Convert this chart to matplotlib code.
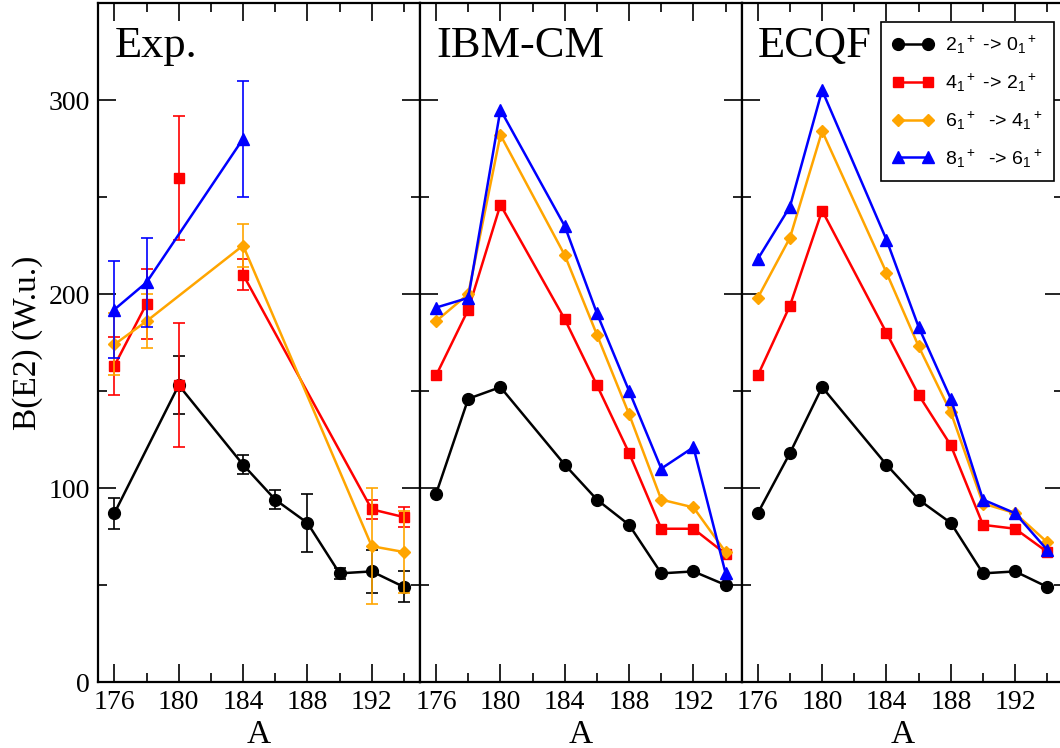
import matplotlib.pyplot as plt
from matplotlib.ticker import MultipleLocator

plt.rcParams['font.family'] = 'Liberation Serif'
plt.rcParams['mathtext.fontset'] = 'custom'
plt.rcParams['mathtext.rm'] = 'Liberation Sans'
plt.rcParams['mathtext.it'] = 'Liberation Sans:italic'
plt.rcParams['mathtext.bf'] = 'Liberation Sans:bold'

# mass numbers of the calculated chain
A_calc = [176, 178, 180, 184, 186, 188, 190, 192, 194]

# experiment: values and errors (W.u.)
exp_A_20 = [176, 180, 184, 186, 188, 190, 192, 194]
exp_20 = [87, 153, 112, 94, 82, 56, 57, 49]
exp_20_err = [8, 15, 5, 5, 15, 3, 11, 8]

exp_A_42 = [176, 178, 180, 180, 184, 192, 194]
exp_42 = [163, 195, 260, 153, 210, 89, 85]
exp_42_err = [15, 18, 32, 32, 8, 5, 5]
exp_42_links = [[0, 1], [4, 5, 6]]  # 180 has two values, left unconnected

exp_A_64 = [176, 178, 184, 192, 194]
exp_64 = [174, 186, 225, 70, 67]
exp_64_err = [16, 14, 11, 30, 21]

exp_A_86 = [176, 178, 184]
exp_86 = [192, 206, 280]
exp_86_err = [25, 23, 30]

# IBM with configuration mixing
ibm_20 = [97, 146, 152, 112, 94, 81, 56, 57, 50]
ibm_42 = [158, 192, 246, 187, 153, 118, 79, 79, 66]
ibm_64 = [186, 200, 282, 220, 179, 138, 94, 90, 67]
ibm_86 = [193, 198, 295, 235, 190, 150, 110, 121, 56]

# ECQF
ecqf_20 = [87, 118, 152, 112, 94, 82, 56, 57, 49]
ecqf_42 = [158, 194, 243, 180, 148, 122, 81, 79, 67]
ecqf_64 = [198, 229, 284, 211, 173, 139, 92, 87, 72]
ecqf_86 = [218, 245, 305, 228, 183, 146, 94, 87, 68]

labels = [r'$2_1{}^+$ -> $0_1{}^+$', r'$4_1{}^+$ -> $2_1{}^+$',
          r'$6_1{}^+$  -> $4_1{}^+$', r'$8_1{}^+$  -> $6_1{}^+$']
colors = ['black', 'red', 'orange', 'blue']
markers = ['o', 's', 'D', '^']
msizes = [8.5, 7, 6, 8.5]
panel_names = ['Exp.', 'IBM-CM', 'ECQF']

W, H = 1060, 748
fig = plt.figure(figsize=(W / 100, H / 100), dpi=100)

axes = []
for i in range(3):
    ax = fig.add_axes([(98.3 + i * 321.7) / W, 66 / H, 321.7 / W, 679 / H])
    ax.set_xlim(175, 195)
    ax.set_ylim(0, 350)
    ax.xaxis.set_major_locator(MultipleLocator(4))
    ax.xaxis.set_minor_locator(MultipleLocator(2))
    ax.yaxis.set_major_locator(MultipleLocator(100))
    ax.yaxis.set_minor_locator(MultipleLocator(50))
    ax.set_xticks([176, 180, 184, 188, 192])
    ax.tick_params(which='both', direction='in', top=True, right=True,
                   labelsize=20, width=1.2)
    ax.tick_params(which='major', length=13, pad=6)
    ax.tick_params(which='minor', length=6.5)
    for s in ax.spines.values():
        s.set_linewidth(1.6)
    if i > 0:
        ax.set_yticklabels([])
    ax.set_xlabel('A', fontsize=24, labelpad=3)
    ax.text(176, 322, panel_names[i], fontsize=32, va='baseline')
    axes.append(ax)

axes[0].set_ylabel('B(E2) (W.u.)', fontsize=24, labelpad=4)

# experimental panel: markers with error bars, lines drawn separately
ax = axes[0]
exp_sets = [(exp_A_20, exp_20, exp_20_err, [list(range(len(exp_A_20)))]),
            (exp_A_42, exp_42, exp_42_err, exp_42_links),
            (exp_A_64, exp_64, exp_64_err, [list(range(len(exp_A_64)))]),
            (exp_A_86, exp_86, exp_86_err, [list(range(len(exp_A_86)))])]
for k, (xa, ya, ea, links) in enumerate(exp_sets):
    for seg in links:
        ax.plot([xa[j] for j in seg], [ya[j] for j in seg],
                color=colors[k], lw=1.8, zorder=2 + k)
    ax.errorbar(xa, ya, yerr=ea, fmt=markers[k], color=colors[k],
                ms=msizes[k], elinewidth=1.2, capsize=4.5, capthick=1.2,
                zorder=2 + k)

# calculations
calc = [[ibm_20, ibm_42, ibm_64, ibm_86],
        [ecqf_20, ecqf_42, ecqf_64, ecqf_86]]
for i, series in enumerate(calc):
    ax = axes[i + 1]
    for k, ya in enumerate(series):
        ax.plot(A_calc, ya, color=colors[k], marker=markers[k],
                ms=msizes[k], lw=1.8, label=labels[k], zorder=2 + k)

leg = axes[2].legend(loc='upper right', bbox_to_anchor=(1054 / W, 1 - 22 / H),
                     bbox_transform=fig.transFigure, borderaxespad=0,
                     fancybox=False, framealpha=1, edgecolor='black',
                     numpoints=2, handlelength=2.1, handletextpad=0.6,
                     labelspacing=0.8, borderpad=0.6,
                     prop={'family': 'Liberation Sans', 'size': 14})
leg.get_frame().set_linewidth(1.2)

fig.savefig('out.png', dpi=100)
